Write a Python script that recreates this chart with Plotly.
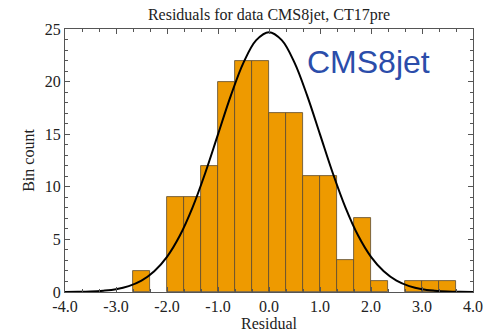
import plotly.graph_objects as go

# Histogram bins (left edge, count); bin width = 1/3
bin_left = [-8/3, -2.0, -5/3, -4/3, -1.0, -2/3, -1/3, 0.0, 1/3, 2/3, 1.0, 4/3, 5/3, 2.0, 8/3, 3.0, 10/3]
bin_count = [2, 9, 9, 12, 20, 22, 22, 17, 17, 11, 11, 3, 7, 1, 1, 1, 1]
bin_width = 1/3

# Reference curve
curve_x = [-4.0, -3.75, -3.5, -3.25, -3.0, -2.75, -2.5, -2.25, -2.0, -1.75, -1.5, -1.25, -1.0, -0.75, -0.5, -0.25,
           0.0, 0.25, 0.5, 0.75, 1.0, 1.25, 1.5, 1.75, 2.0, 2.25, 2.5, 2.75, 3.0, 3.25, 3.5, 3.75, 4.0]
curve_y = [0.01, 0.02, 0.05, 0.13, 0.27, 0.56, 1.08, 1.97, 3.34, 5.34, 8.02, 11.31, 14.98, 18.64, 21.80, 23.94,
           24.70, 23.94, 21.80, 18.64, 14.98, 11.31, 8.02, 5.34, 3.34, 1.97, 1.08, 0.56, 0.27, 0.13, 0.05, 0.02, 0.01]

x_tick_vals = [-4, -3, -2, -1, 0, 1, 2, 3, 4]
x_tick_text = ["-4.0", "-3.0", "-2.0", "-1.0", "0.0", "1.0", "2.0", "3.0", "4.0"]
y_tick_vals = [0, 5, 10, 15, 20, 25]

bin_center = [b + bin_width / 2 for b in bin_left]

serif = "Liberation Serif"

fig = go.Figure()
fig.add_trace(go.Bar(
    x=bin_center, y=bin_count, width=bin_width,
    marker=dict(color="#EE9A00", line=dict(color="#5a4a30", width=0.8)),
    showlegend=False, hoverinfo="skip",
))
fig.add_trace(go.Scatter(
    x=curve_x, y=curve_y, mode="lines",
    line=dict(color="black", width=2, shape="spline"),
    showlegend=False, hoverinfo="skip",
))

fig.add_annotation(
    x=1.96, y=21.9, xref="x", yref="y", text="CMS8jet", showarrow=False,
    font=dict(family="Liberation Sans", size=32, color="#2B4DAA"),
    xanchor="center", yanchor="middle",
)

axis_common = dict(
    showgrid=False, zeroline=False, showline=True, linecolor="#555555", linewidth=1,
    mirror="allticks", ticks="inside", tickcolor="#555555", tickwidth=1, ticklen=5,
    tickfont=dict(family=serif, size=16, color="#222222"), automargin=False,
)

fig.update_layout(
    width=491, height=333,
    margin=dict(l=65, r=18, t=29, b=41),
    paper_bgcolor="white", plot_bgcolor="white",
    bargap=0,
    title=dict(text="Residuals for data CMS8jet, CT17pre", x=0.5, xanchor="center",
               xref="paper", y=0.958, yanchor="middle", automargin=False,
               font=dict(family=serif, size=16, color="#222222")),
    xaxis=dict(range=[-4, 4], tickvals=x_tick_vals, ticktext=x_tick_text,
               minor=dict(dtick=1/3, tick0=0, ticks="inside", ticklen=3, tickcolor="#555555"),
               title=dict(text="Residual", font=dict(family=serif, size=16, color="#222222"), standoff=2),
               **axis_common),
    yaxis=dict(range=[0, 25], tickvals=y_tick_vals,
               minor=dict(dtick=1, tick0=0, ticks="inside", ticklen=3, tickcolor="#555555"),
               title=dict(text="Bin count", font=dict(family=serif, size=16, color="#222222"), standoff=6),
               **axis_common),
)

fig.write_html("out.html")
